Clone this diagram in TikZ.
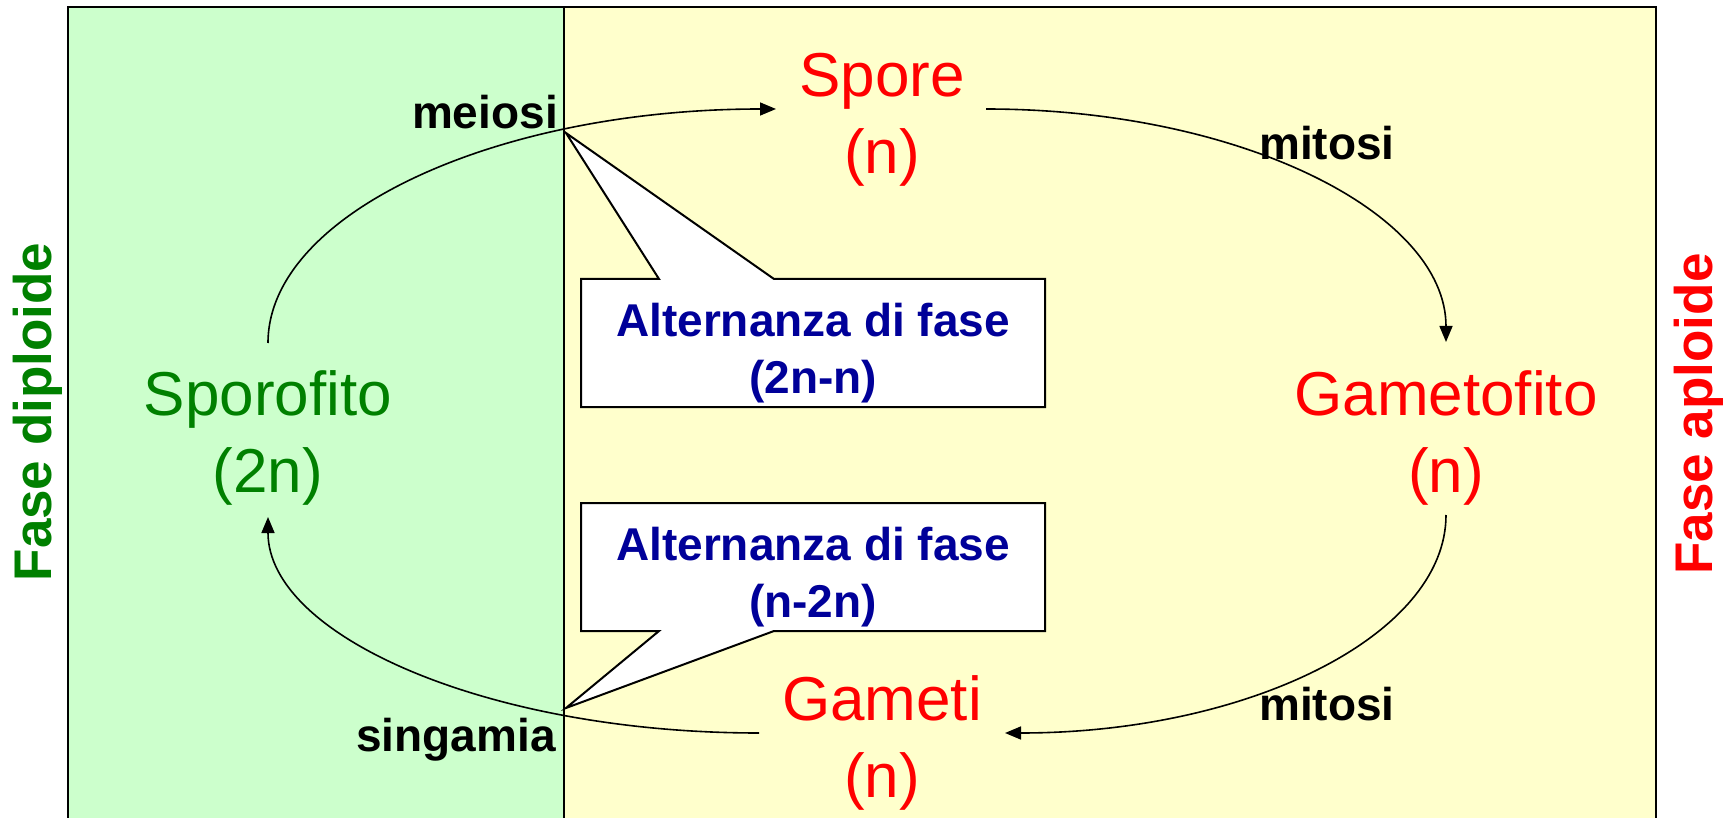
\documentclass[tikz,border=0pt]{standalone}
\usepackage{fontspec}
\setmainfont{Liberation Sans}
\usetikzlibrary{arrows.meta,calc}
\definecolor{bggreen}{HTML}{CCFFCC}
\definecolor{bgyellow}{HTML}{FFFFCC}
\definecolor{tgreen}{HTML}{008000}
\definecolor{tred}{HTML}{FF0000}
\definecolor{tblue}{HTML}{000099}
\begin{document}
\begin{tikzpicture}[x=1pt,y=-1pt,
  frame/.style={draw=black,line width=2pt},
  stage/.style={align=center,inner sep=0pt,anchor=base,font=\fontsize{62}{77}\selectfont},
  steplabel/.style={inner sep=0pt,font=\fontsize{46}{55}\selectfont\bfseries,text=black},
  sidelabel/.style={inner sep=0pt,rotate=90,anchor=base,font=\fontsize{53}{60}\selectfont\bfseries},
  calltext/.style={align=center,inner sep=0pt,anchor=base,text=tblue,font=\fontsize{46}{57}\selectfont\bfseries},
  callbox/.style={draw=black,fill=white,line width=2pt,line join=miter},
  cycle arrow/.style={draw=black,line width=1.6pt,-{Triangle[length=16pt,width=13pt]}}]
\useasboundingbox (0,0) rectangle (1730,818);
\fill[white] (0,0) rectangle (1730,818);
% phase backgrounds
\fill[bggreen] (68,7) rectangle (564,818);
\fill[bgyellow] (564,7) rectangle (1656,818);
\draw[frame] (68,818) -- (68,7) -- (1656,7) -- (1656,818);
\draw[frame] (564,7) -- (564,818);
% side labels
\node[sidelabel,text=tgreen] (fd) at (51,412) {Fase diploide};
\node[sidelabel,text=tred] (fa) at (1712,414) {Fase aploide};
% stages (base anchor = baseline of last line)
\node[stage,text=tred] (spr) at (882,174) {Spore\\(n)};
\node[stage,text=tred] (gto) at (1446,492) {Gametofito\\(n)};
\node[stage,text=tred] (gam) at (882,797) {Gameti\\(n)};
\node[stage,text=tgreen] (spo) at (268,492) {Sporofito\\(2n)};
% step labels
\node[steplabel,anchor=base east] (mei) at (558,129) {meiosi};
\node[steplabel,anchor=base west] (mit1) at (1259,160) {mitosi};
\node[steplabel,anchor=base west] (mit2) at (1259,720) {mitosi};
\node[steplabel,anchor=base east] (sin) at (556,751) {singamia};
% cycle
\draw[cycle arrow] ($(spo.base)+(0,-149)$) .. controls +(0,-129) and +(-281,0) .. ($(spr.base)+(-106,-65)$);
\draw[cycle arrow] ($(spr.base)+(104,-65)$) .. controls +(254,0) and +(0,-129) .. ($(gto.base)+(0,-150)$);
\draw[cycle arrow] ($(gto.base)+(0,23)$) .. controls +(0,120) and +(244,0) .. ($(gam.base)+(123,-64)$);
\draw[cycle arrow] ($(gam.base)+(-123,-64)$) .. controls +(-271,0) and +(0,119) .. ($(spo.base)+(0,25)$);
% callouts
\coordinate (tip1) at (566,133);
\coordinate (tip2) at (566,708);
\draw[callbox] (581,279) -- (659,279) -- (tip1) -- (774,279) -- (1045,279) -- (1045,407) -- (581,407) -- cycle;
\node[calltext] (c1) at (813,393) {Alternanza di fase\\(2n-n)};
\draw[callbox] (581,503) -- (1045,503) -- (1045,631) -- (774,631) -- (tip2) -- (659,631) -- (581,631) -- cycle;
\node[calltext] (c2) at (813,617) {Alternanza di fase\\(n-2n)};
\end{tikzpicture}
\end{document}
